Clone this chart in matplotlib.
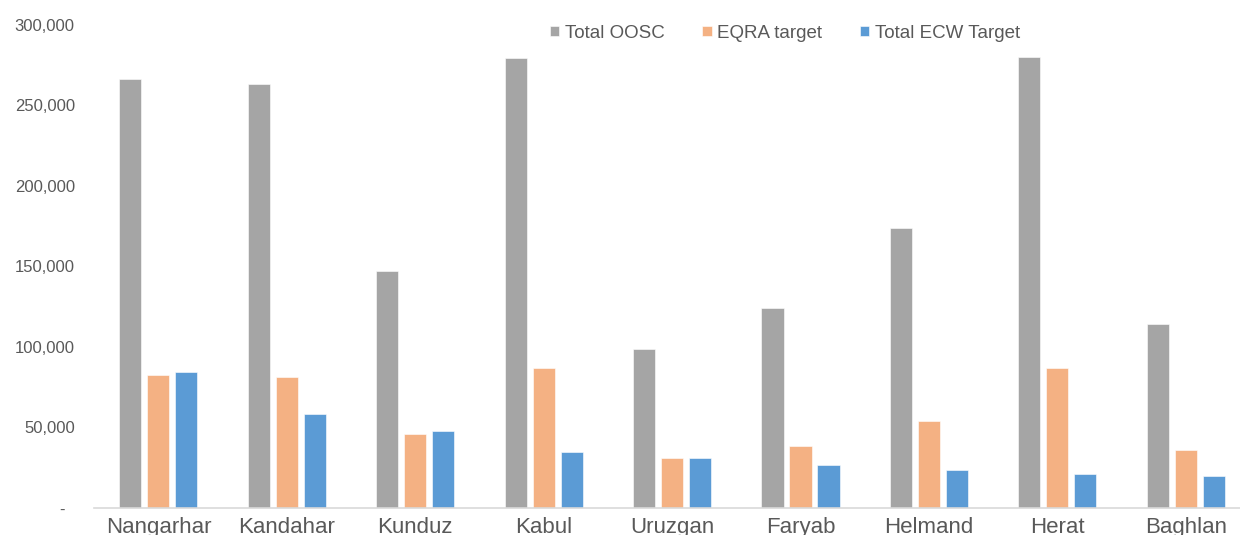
import numpy as np
import matplotlib.pyplot as plt
from matplotlib.ticker import FuncFormatter

# provinces and series
provinces = ["Nangarhar", "Kandahar", "Kunduz", "Kabul", "Uruzgan",
             "Faryab", "Helmand", "Herat", "Baghlan"]
total_oosc = [266000, 263400, 146800, 279000, 98600, 124300, 173600, 280000, 114200]
eqra_target = [82300, 81200, 45700, 86800, 30900, 38200, 53900, 86800, 35700]
ecw_target = [84000, 58500, 47500, 34700, 30900, 26400, 23700, 21000, 20000]

series = [("Total OOSC", total_oosc, "#A5A5A5"),
          ("EQRA target", eqra_target, "#F4B183"),
          ("Total ECW Target", ecw_target, "#5B9BD5")]

plt.rcParams['font.family'] = ['Liberation Sans', 'DejaVu Sans']
text_col = "#595959"

fig = plt.figure(figsize=(12.4, 5.35), dpi=100)
ax = fig.add_axes([0.076, 0.051, 0.932, 0.903])

x = np.arange(len(provinces))
w = 0.172
step = 0.218
for i, (name, vals, col) in enumerate(series):
    ax.bar(x + (i - 1) * step, vals, width=w, color=col, label=name,
           edgecolor="white", linewidth=0.4)

ax.set_xlim(-0.5, len(provinces) - 0.5)
ax.set_ylim(0, 300000)
ax.set_yticks(np.arange(0, 300001, 50000))
ax.yaxis.set_major_formatter(FuncFormatter(
    lambda v, p: "-  " if v == 0 else f"{v:,.0f}"))
ax.set_xticks(x)
ax.set_xticklabels(provinces)

ax.tick_params(axis="y", length=0, pad=14, labelsize=12, labelcolor=text_col)
ax.tick_params(axis="x", length=0, pad=7, labelsize=16, labelcolor=text_col)

for s in ["top", "right", "left"]:
    ax.spines[s].set_visible(False)
ax.spines["bottom"].set_color("#D9D9D9")
ax.spines["bottom"].set_linewidth(1.2)

leg = fig.legend(loc="center", bbox_to_anchor=(0.633, 0.938), ncol=3,
                 frameon=False, fontsize=13.5, handlelength=0.5,
                 handleheight=0.5, handletextpad=0.3, columnspacing=2.0)
for t in leg.get_texts():
    t.set_color(text_col)

fig.savefig("out.png", dpi=100)
